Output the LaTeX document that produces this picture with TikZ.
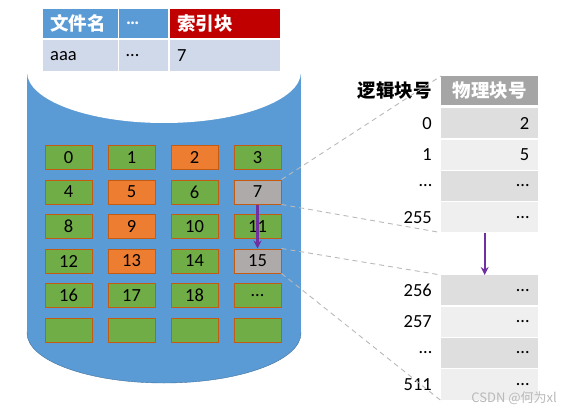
\documentclass[tikz,border=0pt]{standalone}
\usepackage{fontspec}
\setmainfont{Carlito}
\newfontfamily\cjk{Noto Sans CJK SC}
\usetikzlibrary{positioning,arrows.meta}
\definecolor{diskblue}{HTML}{5B9BD5}
\definecolor{diskedge}{HTML}{41719C}
\definecolor{idxred}{HTML}{C00000}
\definecolor{rowblue}{HTML}{D0D9EA}
\definecolor{blkgreen}{HTML}{70AD47}
\definecolor{blkorange}{HTML}{ED7D31}
\definecolor{blkgray}{HTML}{AEAAAA}
\definecolor{blkedge}{HTML}{C55A11}
\definecolor{phgray}{HTML}{A5A5A5}
\definecolor{rowdark}{HTML}{DEDEDE}
\definecolor{rowlight}{HTML}{EFEFEF}
\definecolor{jumppurple}{HTML}{7030A0}
\tikzset{
  txt/.style={font=\fontsize{18.5}{20}\selectfont},
  blk/.style={txt,draw=blkedge,line width=1pt,minimum width=47pt,minimum height=24pt,inner sep=0pt},
  gn/.style={fill=blkgreen}, og/.style={fill=blkorange}, gy/.style={fill=blkgray},
  cell/.style={txt,anchor=north west,inner xsep=7pt,inner ysep=0pt,minimum height=29pt,align=left},
  prow/.style={txt,anchor=north west,minimum width=97pt,minimum height=30pt,inner xsep=9pt,inner ysep=0pt,text width=79pt,align=right},
  lbl/.style={txt,inner sep=0pt},
  link/.style={gray!55,dashed,line width=0.9pt,dash pattern=on 5pt off 4pt},
  jump/.style={-{Stealth[length=8pt,width=8pt]},line width=2.4pt,jumppurple}
}
\begin{document}
\begin{tikzpicture}[x=1pt,y=-1pt]
  \useasboundingbox (0,0) rectangle (572,414);
  % disk
  \filldraw[fill=diskblue,draw=diskedge] (164,333) ellipse [x radius=137,y radius=50];
  \fill[diskblue] (27,72) rectangle (301,333);
  \fill[white] (164,72) ellipse [x radius=137,y radius=51];
  % file table
  \node[cell,fill=diskblue,text=white,text width=61pt] (h1) at (43,9) {\cjk\bfseries 文件名};
  \node[cell,fill=diskblue,text=white,text width=35pt] (h2) at (119,9) {\bfseries\ldots};
  \node[cell,fill=idxred,text=white,text width=96pt] (h3) at (170,9) {\cjk\bfseries 索引块};
  \node[cell,fill=rowblue,text width=61pt,minimum height=31pt] (d1) at (43,40) {aaa};
  \node[cell,fill=rowblue,text width=35pt,minimum height=31pt] (d2) at (119,40) {\ldots};
  \node[cell,fill=rowblue,text width=96pt,minimum height=31pt] (d3) at (170,40) {7};
  % blocks
  \foreach \t/\s [count=\i from 0] in {0/gn,1/gn,2/og,3/gn,4/gn,5/og,6/gn,7/gy,8/gn,9/og,10/gn,11/gn,
      12/gn,13/og,14/gn,15/gy,16/gn,17/gn,18/gn,{\ldots}/gn,/gn,/gn,/gn,/gn}
    \node[blk,\s] (b\i) at ({68.5+63*mod(\i,4)},{157.5+34.5*int(\i/4)}) {\t};
  \draw[jump] (b7.south) -- (b15.north);
  % index block
  \node[prow,fill=phgray,text=white,align=center,minimum height=29pt] (ph) at (441,76) {\cjk\bfseries 物理块号};
  \node[lbl,left=9pt of ph] (lh) {\cjk\bfseries 逻辑块号};
  \node[prow,fill=rowdark] (r0) at (441,108) {2};
  \node[prow,fill=rowlight,below=1pt of r0] (r1) {5};
  \node[prow,fill=rowdark,below=1pt of r1] (r2) {\ldots};
  \node[prow,fill=rowlight,below=1pt of r2] (r3) {\ldots};
  \node[prow,fill=rowdark] (s0) at (441,275) {\ldots};
  \node[prow,fill=rowlight,below=1pt of s0] (s1) {\ldots};
  \node[prow,fill=rowdark,below=1pt of s1] (s2) {\ldots};
  \node[prow,fill=rowlight,below=1pt of s2,minimum height=31pt] (s3) {\ldots};
  \node[lbl,left=9pt of r0] (l0) {0};
  \node[lbl,left=9pt of r1] (l1) {1};
  \node[lbl,left=9pt of r2] (l2) {\ldots};
  \node[lbl,left=9pt of r3] (l3) {255};
  \node[lbl,left=9pt of s0] (m0) {256};
  \node[lbl,left=9pt of s1] (m1) {257};
  \node[lbl,left=9pt of s2] (m2) {\ldots};
  \node[lbl,left=9pt of s3] (m3) {511};
  \draw[jump] ([xshift=-5pt]r3.south) -- ([xshift=-5pt]s0.north);
  \draw[link] (b7.north east) -- (ph.north west);
  \draw[link] (b7.south east) -- (r3.south west);
  \draw[link] (b15.north east) -- (s0.north west);
  \draw[link] (b15.south east) -- (s3.south west);
  \node[font=\cjk\fontsize{13}{15}\selectfont,text=gray!55,anchor=south east,inner sep=0pt] (wm) at (557,405) {CSDN @何为xl};
\end{tikzpicture}
\end{document}
